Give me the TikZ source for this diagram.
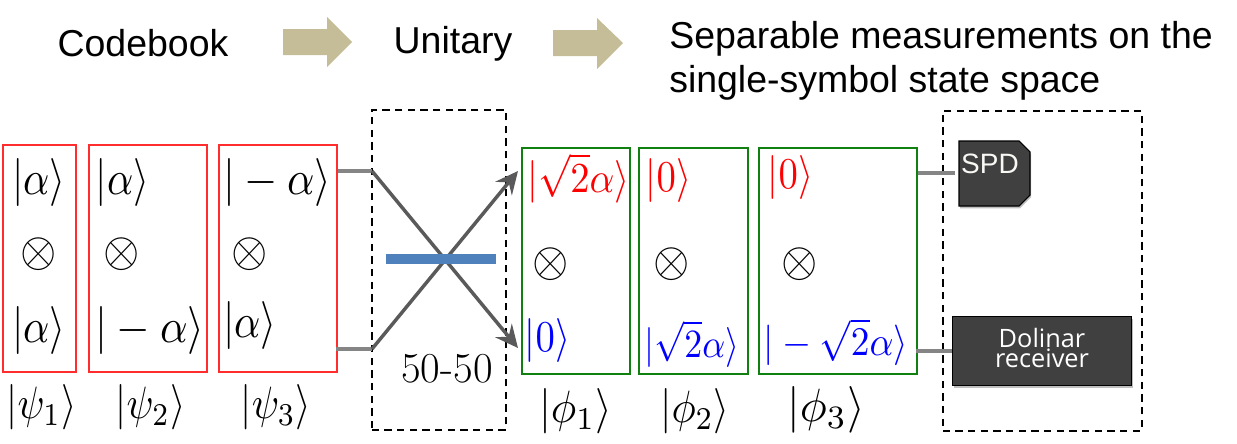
\documentclass[tikz,border=0pt]{standalone}
\usepackage[no-math]{fontspec}
\setmainfont{Liberation Sans}
\newfontfamily\dolfont{Open Sans}
\newfontfamily\lmfont{Latin Modern Roman}
\usetikzlibrary{shadows,arrows.meta}
\newcommand{\Mth}[3]{\scalebox{#1}[#2]{\smash{$#3$}\rule[-.25em]{0pt}{1em}}}
\definecolor{redbox}{HTML}{FF2D2D}
\definecolor{greenbox}{HTML}{108010}
\definecolor{beige}{HTML}{C4BD97}
\definecolor{barblue}{HTML}{4F81BD}
\definecolor{darkbox}{HTML}{404040}
\definecolor{wireg}{HTML}{858585}
\definecolor{beamg}{HTML}{5A5A5A}
\tikzset{
  x=0.75pt,y=-0.75pt,
  framebox/.style={draw,line width=1.5pt,minimum width=#1*0.75pt,inner sep=0pt,anchor=north west},
  redb/.style={framebox=#1,draw=redbox,minimum height=170.25pt},
  greenb/.style={framebox=#1,draw=greenbox,minimum height=169.5pt},
  dashbox/.style={draw=black,line width=1.2pt,dash pattern=on 5.5pt off 4pt,minimum height=240pt,inner sep=0pt,anchor=north west},
  mlabel/.style={inner sep=0pt},
  head/.style={inner sep=0pt,font=\fontsize{28.1}{33}\selectfont},
  graywire/.style={draw=wireg,line width=3pt},
  beam/.style={draw=beamg,line width=2.6pt},
  beama/.style={beam,-{Stealth[length=17pt,width=16pt,inset=6pt]}},
  flow/.style={fill=beige,draw=none},
  det/.style={fill=darkbox,draw=black,line width=0.8pt,drop shadow={shadow xshift=0.8pt,shadow yshift=-1.8pt,opacity=0.25,fill=black}},
}
\begin{document}
\begin{tikzpicture}
\useasboundingbox (0,0) rectangle (1237,443);
% headings
\node[head] (tcode) at (143,43) {Codebook};
\node[head] (tunit) at (453,44) {Unitary};
\node[head,anchor=west,align=left] (tsep) at (669,61) {Separable measurements on the\\single-symbol state space};
\fill[flow] (283,29) -- (327,29) -- (327,17) -- (352,42) -- (327,67) -- (327,55) -- (283,55) -- cycle;
\fill[flow] (553,30) -- (597,30) -- (597,18) -- (623,43) -- (597,69) -- (597,56) -- (553,56) -- cycle;
% dashed boxes
\node[dashbox,minimum width=100.5pt] (bs) at (371,109) {};
\node[dashbox,minimum width=149.25pt] (rx) at (942,110) {};
% red boxes
\node[redb=73] (r1) at (2,144) {};
\node[redb=118] (r2) at (88,144) {};
\node[redb=118] (r3) at (218,144) {};
% green boxes
\node[greenb=108] (g1) at (521,147) {};
\node[greenb=109] (g2) at (638,147) {};
\node[greenb=158] (g3) at (758,147) {};
% states
\node[mlabel] (a1) at (39,182) {\Mth{3.07}{3.6}{|\alpha\rangle}};
\node[mlabel] (o1) at (38.5,254.5) {\Mth{3.5}{3.7}{\otimes}};
\node[mlabel] (b1) at (39,330) {\Mth{3.07}{3.6}{|\alpha\rangle}};
\node[mlabel] (p1) at (41.5,407.5) {\Mth{2.96}{3.4}{|\psi_1\rangle}};
\node[mlabel] (a2) at (122.5,182) {\Mth{3.07}{3.6}{|\alpha\rangle}};
\node[mlabel] (o2) at (122,254) {\Mth{3.5}{3.7}{\otimes}};
\node[mlabel] (b2) at (150,330) {\Mth{3.23}{3.6}{|-\alpha\rangle}};
\node[mlabel] (p2) at (150.5,407.5) {\Mth{2.96}{3.4}{|\psi_2\rangle}};
\node[mlabel] (a3) at (277.5,182) {\Mth{3.2}{3.6}{|-\alpha\rangle}};
\node[mlabel] (o3) at (249.5,254.5) {\Mth{3.5}{3.7}{\otimes}};
\node[mlabel] (b3) at (250,325) {\Mth{3.07}{3.6}{|\alpha\rangle}};
\node[mlabel] (p3) at (276,407.5) {\Mth{3.0}{3.4}{|\psi_3\rangle}};
\node[mlabel,text=red] (c1) at (578.5,181.5) {\Mth{2.9}{3.2}{|\sqrt{2}\alpha\rangle}};
\node[mlabel] (q1) at (551,264) {\Mth{3.5}{3.7}{\otimes}};
\node[mlabel,text=blue] (d1) at (547.5,340) {\Mth{2.9}{3.3}{|0\rangle}};
\node[mlabel] (f1) at (575.5,411) {\Mth{3.2}{3.4}{|\phi_1\rangle}};
\node[mlabel,text=red] (c2) at (668.5,180) {\Mth{2.9}{3.3}{|0\rangle}};
\node[mlabel] (q2) at (672,264) {\Mth{3.5}{3.7}{\otimes}};
\node[mlabel,text=blue] (d2) at (692,347) {\Mth{2.68}{3.0}{|\sqrt{2}\alpha\rangle}};
\node[mlabel] (f2) at (695,411) {\Mth{3.05}{3.4}{|\phi_2\rangle}};
\node[mlabel,text=red] (c3) at (790.5,177.5) {\Mth{2.9}{3.3}{|0\rangle}};
\node[mlabel] (q3) at (800,264) {\Mth{3.5}{3.7}{\otimes}};
\node[mlabel,text=blue] (d3) at (836,345.5) {\Mth{2.8}{3.05}{|-\sqrt{2}\alpha\rangle}};
\node[mlabel] (f3) at (826,410) {\Mth{3.4}{3.5}{|\phi_3\rangle}};
\node[inner sep=0pt,font=\lmfont\fontsize{32}{36}\selectfont] (fifty) at (447,369) {50-50};
% beam splitter
\coordinate (i1) at (338,171);
\coordinate (i2) at (336,349);
\coordinate (m1) at (372,171);
\coordinate (m2) at (372,349);
\coordinate (e1) at (518,171);
\coordinate (e2) at (518,348);
\draw[graywire] (i1) -- (m1);
\draw[graywire] (i2) -- (m2);
\draw[beama] (m1) -- (e2);
\draw[beama] (m2) -- (e1);
\coordinate (bl) at (386,259);
\coordinate (br) at (496,259);
\draw[draw=barblue,line width=7.5pt] (bl) -- (br);
% detectors
\draw[det] (959,141) -- (1019,141) -- (1030,152) -- (1030,195) -- (1019,206) -- (959,206) -- cycle;
\node[inner sep=0pt,text=white!90!beige,font=\fontsize{21}{24}\selectfont] (spdt) at (990,164) {SPD};
\node[det,minimum width=134.25pt,minimum height=51.75pt,inner sep=0pt,anchor=north west] (dol) at (952,316) {};
\node[inner sep=0pt,align=center,text=white,font=\dolfont\fontsize{19}{15}\selectfont] (dolt) at (1042,348) {Dolinar\\receiver};
\coordinate (s0) at (918,173);
\coordinate (s1) at (955,173);
\coordinate (d0) at (916,351);
\draw[graywire] (s0) -- (s1);
\draw[graywire] (d0) -- (d0 -| dol.west);
\end{tikzpicture}
\end{document}
